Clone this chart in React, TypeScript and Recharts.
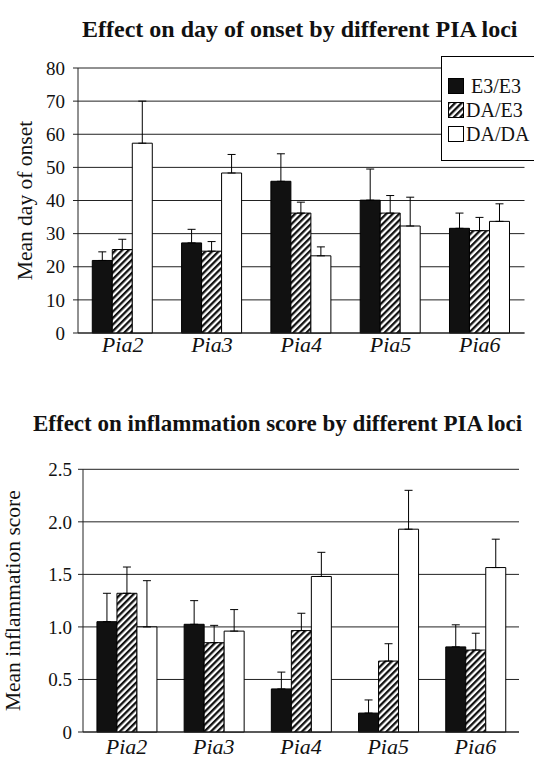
import React from 'react';
import { BarChart, Bar, XAxis, YAxis, CartesianGrid, ErrorBar } from 'recharts';

// loci on the x axis
const loci = ['Pia2', 'Pia3', 'Pia4', 'Pia5', 'Pia6'];

// chart 1: mean day of onset (bar value, upper error length)
const onsetE3 = [21.9, 27.2, 45.8, 40.1, 31.6];
const onsetE3Err = [2.6, 4.1, 8.3, 9.4, 4.6];
const onsetDAE3 = [25.2, 24.7, 36.2, 36.2, 30.9];
const onsetDAE3Err = [3.1, 2.9, 3.3, 5.3, 4.0];
const onsetDADA = [57.3, 48.3, 23.3, 32.3, 33.7];
const onsetDADAErr = [12.7, 5.6, 2.7, 8.7, 5.3];
const onsetTicks = [0, 10, 20, 30, 40, 50, 60, 70, 80];

// chart 2: mean inflammation score
const inflE3 = [1.05, 1.025, 0.41, 0.18, 0.81];
const inflE3Err = [0.27, 0.225, 0.16, 0.125, 0.21];
const inflDAE3 = [1.32, 0.85, 0.965, 0.675, 0.78];
const inflDAE3Err = [0.25, 0.165, 0.165, 0.165, 0.16];
const inflDADA = [1.0, 0.96, 1.48, 1.93, 1.565];
const inflDADAErr = [0.44, 0.205, 0.23, 0.37, 0.27];
const inflTicks = [0, 0.5, 1.0, 1.5, 2.0, 2.5];

const genotypes = ['E3/E3', 'DA/E3', 'DA/DA'];

const FONT = "'Liberation Serif', 'Times New Roman', serif";
const INK = '#111';

const buildRows = (a: number[], ae: number[], b: number[], be: number[], c: number[], ce: number[]) =>
  loci.map((name, i) => ({
    name,
    e3: a[i], e3Err: [0, ae[i]],
    dae3: b[i], dae3Err: [0, be[i]],
    dada: c[i], dadaErr: [0, ce[i]],
  }));

const onsetRows = buildRows(onsetE3, onsetE3Err, onsetDAE3, onsetDAE3Err, onsetDADA, onsetDADAErr);
const inflRows = buildRows(inflE3, inflE3Err, inflDAE3, inflDAE3Err, inflDADA, inflDADAErr);

const Hatch = ({ id }: { id: string }) => (
  <pattern id={id} patternUnits="userSpaceOnUse" width="4.6" height="4.6" patternTransform="rotate(45)">
    <rect width="4.6" height="4.6" fill="#fff" />
    <rect width="2.3" height="4.6" fill={INK} />
  </pattern>
);

const PanelChart = ({ rows, ticks, yLabel, height, margin, yWidth, tickMargin, xTickMargin, labelOffset, fmt, hatchId }: any) => (
  <BarChart width={534} height={height} data={rows} margin={margin} barCategoryGap="16%" barGap={0}
    style={{ fontFamily: FONT }}>
    <defs>
      <Hatch id={hatchId} />
    </defs>
    <CartesianGrid vertical={false} stroke="#222" strokeWidth={1} />
    <XAxis
      xAxisId="edges"
      type="number"
      domain={[0, loci.length]}
      ticks={loci.map((_, i) => i).concat(loci.length)}
      height={0}
      axisLine={false}
      tickLine={{ stroke: '#222' }}
      tickSize={4}
      tickFormatter={() => ''}
    />
    <XAxis
      dataKey="name"
      height={30}
      axisLine={{ stroke: '#222' }}
      tickLine={false}
      tick={{ fontFamily: FONT, fontStyle: 'italic', fontSize: 22, fill: INK }}
      tickMargin={xTickMargin}
    />
    <YAxis
      domain={[0, ticks[ticks.length - 1]]}
      ticks={ticks}
      interval={0}
      width={yWidth}
      axisLine={{ stroke: '#222' }}
      tickLine={{ stroke: '#222' }}
      tickSize={5}
      tickMargin={tickMargin}
      tickFormatter={fmt}
      tick={{ fontFamily: FONT, fontSize: 19, fill: INK }}
      label={{
        value: yLabel,
        angle: -90,
        position: 'insideLeft',
        offset: labelOffset,
        style: { textAnchor: 'middle', fontFamily: FONT, fontSize: 21.5, fill: INK },
      }}
    />
    <YAxis yAxisId="right" orientation="right" width={0} tick={false} tickLine={false} axisLine={{ stroke: '#222' }} />
    <Bar dataKey="e3" fill={INK} stroke="#000" strokeWidth={1} isAnimationActive={false}>
      <ErrorBar dataKey="e3Err" direction="y" width={4} stroke="#000" strokeWidth={1} />
    </Bar>
    <Bar dataKey="dae3" fill={`url(#${hatchId})`} stroke="#000" strokeWidth={1} isAnimationActive={false}>
      <ErrorBar dataKey="dae3Err" direction="y" width={4} stroke="#000" strokeWidth={1} />
    </Bar>
    <Bar dataKey="dada" fill="#fff" stroke="#000" strokeWidth={1} isAnimationActive={false}>
      <ErrorBar dataKey="dadaErr" direction="y" width={4} stroke="#000" strokeWidth={1} />
    </Bar>
  </BarChart>
);

const LegendBox = () => (
  <div
    style={{
      position: 'absolute',
      left: 441,
      top: 56,
      width: 110,
      height: 105,
      border: '1.5px solid #000',
      background: '#fff',
      boxSizing: 'border-box',
      padding: '17px 0 0 6px',
      fontFamily: FONT,
      fontSize: 20,
      color: INK,
    }}
  >
    {genotypes.map((g, i) => (
      <div key={g} style={{ display: 'flex', alignItems: 'center', height: 24 }}>
        <svg width={16} height={16} style={{ flex: 'none' }}>
          <defs>
            <Hatch id={`lg-hatch-${i}`} />
          </defs>
          <rect
            x={0.5}
            y={0.5}
            width={15}
            height={15}
            stroke="#000"
            strokeWidth={1}
            fill={i === 0 ? INK : i === 1 ? `url(#lg-hatch-${i})` : '#fff'}
          />
        </svg>
        <span style={{ marginLeft: i === 0 ? 7 : 2, whiteSpace: 'nowrap', lineHeight: '20px' }}>{g}</span>
      </div>
    ))}
  </div>
);

const titleStyle: React.CSSProperties = {
  position: 'absolute',
  fontFamily: FONT,
  fontWeight: 'bold',
  fontSize: 24,
  lineHeight: '26px',
  whiteSpace: 'nowrap',
  color: INK,
};

const App = () => {
  return (
    <div
      style={{
        position: 'absolute',
        left: 0,
        top: 0,
        width: 534,
        height: 762,
        overflow: 'hidden',
        background: '#fff',
        fontFamily: FONT,
      }}
    >
      <div style={{ ...titleStyle, left: 82, top: 16 }}>Effect on day of onset by different PIA loci</div>
      <div style={{ position: 'absolute', left: 0, top: 0 }}>
        <PanelChart
          rows={onsetRows}
          ticks={onsetTicks}
          yLabel="Mean day of onset"
          height={370}
          margin={{ top: 68, right: 9.5, left: 0, bottom: 7 }}
          yWidth={78}
          tickMargin={8}
          xTickMargin={-3}
          labelOffset={24}
          fmt={(v: number) => String(v)}
          hatchId="hatch-onset"
        />
      </div>
      <LegendBox />

      <div style={{ ...titleStyle, fontSize: 23, left: 33, top: 411 }}>
        Effect on inflammation score by different PIA loci
      </div>
      <div style={{ position: 'absolute', left: 0, top: 440 }}>
        <PanelChart
          rows={inflRows}
          ticks={inflTicks}
          yLabel="Mean inflammation score"
          height={322}
          margin={{ top: 29.3, right: 15, left: 0, bottom: 0 }}
          yWidth={83}
          tickMargin={6}
          xTickMargin={0}
          labelOffset={12}
          fmt={(v: number) => (v === 0 ? '0' : v.toFixed(1))}
          hatchId="hatch-infl"
        />
      </div>
    </div>
  );
};

export default App;
